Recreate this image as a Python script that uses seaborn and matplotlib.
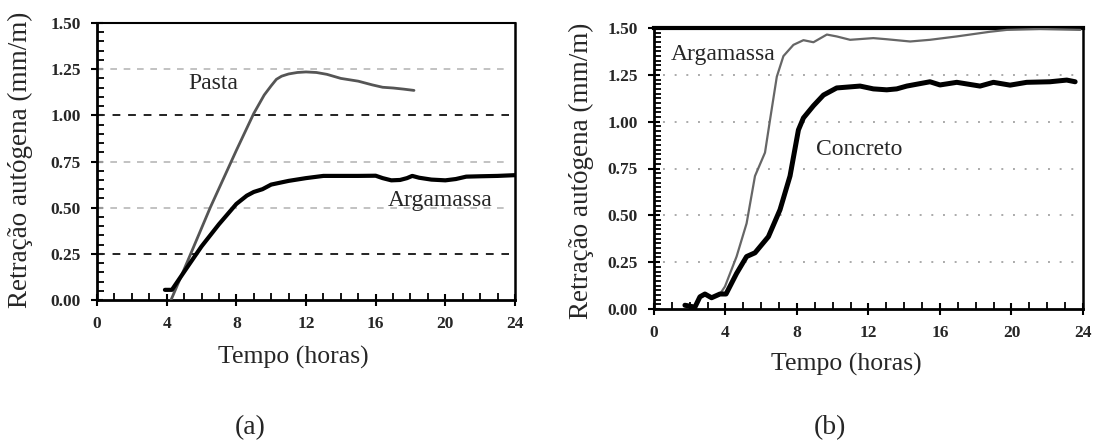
import matplotlib
matplotlib.use("Agg")
import matplotlib.pyplot as plt
from matplotlib.ticker import MultipleLocator, FixedLocator
import seaborn as sns
import pandas as pd

# ---------------- data ----------------
# Panel (a)
pasta_t = [4.25, 5.2, 6.5, 8.0, 9.0, 9.6, 10.0, 10.3, 10.6, 11.0, 11.5, 12.0, 12.6, 13.2,
           14.0, 15.0, 15.8, 16.4, 17.0, 17.6, 18.2]
pasta_v = [0.0, 0.21, 0.50, 0.81, 1.01, 1.11, 1.16, 1.195, 1.212, 1.224, 1.232, 1.235,
           1.232, 1.222, 1.20, 1.185, 1.165, 1.152, 1.148, 1.142, 1.135]

arg_a_t = [3.9, 4.3, 5.2, 6.0, 7.0, 8.0, 8.6, 9.0, 9.5, 10.0, 11.0, 12.0, 13.0, 14.0,
           15.0, 16.0, 16.4, 16.9, 17.4, 17.8, 18.1, 18.5, 19.2, 20.0, 20.6, 21.2,
           22.0, 23.0, 24.0]
arg_a_v = [0.055, 0.055, 0.18, 0.29, 0.41, 0.52, 0.565, 0.585, 0.60, 0.625, 0.645,
           0.66, 0.672, 0.672, 0.672, 0.673, 0.66, 0.648, 0.65, 0.66, 0.672, 0.662,
           0.652, 0.648, 0.655, 0.668, 0.67, 0.672, 0.676]

# Panel (b)
conc_t = [1.73, 2.29, 2.57, 2.85, 3.22, 3.69, 4.03, 4.62, 5.18, 5.65, 6.4, 7.05, 7.61,
          8.08, 8.36, 8.92, 9.48, 10.22, 11.53, 12.27, 13.02, 13.58, 14.14, 15.44,
          16.0, 16.94, 18.24, 18.99, 19.92, 20.85, 22.15, 23.09, 23.56]
conc_v = [0.02, 0.01, 0.065, 0.08, 0.06, 0.08, 0.08, 0.19, 0.28, 0.30, 0.386, 0.53,
          0.71, 0.956, 1.02, 1.085, 1.142, 1.18, 1.19, 1.175, 1.17, 1.175, 1.19,
          1.213, 1.196, 1.21, 1.19, 1.21, 1.195, 1.21, 1.213, 1.222, 1.213]

arg_b_t = [3.69, 3.97, 4.62, 5.18, 5.65, 6.21, 6.49, 6.87, 7.24, 7.8, 8.36, 8.92, 9.67,
           10.22, 10.97, 12.27, 13.02, 14.33, 15.44, 16.94, 18.8, 19.74, 21.6, 23.85]
arg_b_v = [0.08, 0.12, 0.28, 0.457, 0.71, 0.835, 1.009, 1.24, 1.35, 1.41, 1.435, 1.424,
           1.465, 1.455, 1.437, 1.446, 1.44, 1.428, 1.437, 1.455, 1.48, 1.49, 1.495,
           1.49]

x_ticks = [0, 4, 8, 12, 16, 20, 24]
y_ticks = [0.0, 0.25, 0.5, 0.75, 1.0, 1.25, 1.5]
y_tick_labels = ["0.00", "0.25", "0.50", "0.75", "1.00", "1.25", "1.50"]
ylabel = "Retração autógena (mm/m)"
xlabel = "Tempo (horas)"

# ---------------- style ----------------
sns.set_style("ticks")
plt.rcParams["font.family"] = ["Liberation Serif", "DejaVu Serif"]

W, H = 1099, 446
fig = plt.figure(figsize=(W / 100, H / 100), dpi=100)


def px_axes(l, t, r, b):
    return fig.add_axes([l / W, 1 - b / H, (r - l) / W, (b - t) / H])


ax_a = px_axes(97, 23, 515, 300)
ax_b = px_axes(654, 28, 1083, 309)

df_pasta = pd.DataFrame({"t": pasta_t, "v": pasta_v})
df_arg_a = pd.DataFrame({"t": arg_a_t, "v": arg_a_v})
df_conc = pd.DataFrame({"t": conc_t, "v": conc_v})
df_arg_b = pd.DataFrame({"t": arg_b_t, "v": arg_b_v})

# ---- panel (a) ----
for yv in [0.5, 0.75, 1.25]:
    ax_a.axhline(yv, xmax=0.985, color="#b8b8b8", lw=1.2, ls=(0, (4, 4)), zorder=1)
for yv in [0.25, 1.0]:
    ax_a.axhline(yv, xmax=0.985, color="#222222", lw=1.4, ls=(0, (4, 4)), zorder=1)

sns.lineplot(data=df_pasta, x="t", y="v", ax=ax_a, color="#555555", lw=2.0,
             estimator=None, sort=False, zorder=3)
sns.lineplot(data=df_arg_a, x="t", y="v", ax=ax_a, color="#000000", lw=3.0,
             estimator=None, sort=False, zorder=4)

ax_a.text(6.7, 1.17, "Pasta", fontsize=17, ha="center", va="center")
ax_a.text(19.7, 0.537, "Argamassa", fontsize=17, ha="center", va="center")

# ---- panel (b) ----
for yv in [0.25, 0.5, 0.75, 1.0, 1.25]:
    ax_b.axhline(yv, xmin=0.02, xmax=0.985, color="#aaaaaa", lw=1.4,
                 ls=(0, (1, 5)), zorder=1)

sns.lineplot(data=df_arg_b, x="t", y="v", ax=ax_b, color="#666666", lw=1.6,
             estimator=None, sort=False, zorder=3)
sns.lineplot(data=df_conc, x="t", y="v", ax=ax_b, color="#000000", lw=3.6,
             estimator=None, sort=False, zorder=4)

ax_b.text(3.89, 1.36, "Argamassa", fontsize=17, ha="center", va="center")
ax_b.text(11.5, 0.854, "Concreto", fontsize=17, ha="center", va="center")

# ---- common axis styling ----
for ax, minor_y, xlab_pos, ylab_pos, top_lw in [
    (ax_a, 0.05, (0.469, -0.209), (-0.182, 0.505), 1.5),
    (ax_b, 0.025, (0.448, -0.199), (-0.17, 0.49), 3.0),
]:
    ax.set_xlim(0, 24)
    ax.set_ylim(0, 1.5)
    ax.xaxis.set_major_locator(FixedLocator(x_ticks))
    ax.yaxis.set_major_locator(FixedLocator(y_ticks))
    ax.set_yticklabels(y_tick_labels)
    ax.xaxis.set_minor_locator(MultipleLocator(1))
    ax.yaxis.set_minor_locator(MultipleLocator(minor_y))
    ax.tick_params(axis="both", which="major", direction="inout", length=9,
                   width=1.5, color="black", labelsize=12.5, pad=7)
    ax.tick_params(axis="both", which="minor", direction="in", length=5,
                   width=1.3, color="black")
    for lab in ax.get_xticklabels() + ax.get_yticklabels():
        lab.set_fontweight("bold")
    ax.set_xlabel(xlabel, fontsize=18.5)
    ax.set_ylabel(ylabel, fontsize=19.5)
    ax.xaxis.label.set_va("center")
    ax.yaxis.label.set_va("center")
    ax.xaxis.set_label_coords(*xlab_pos)
    ax.yaxis.set_label_coords(*ylab_pos)
    for s in ["left", "bottom"]:
        ax.spines[s].set_linewidth(2.0)
    ax.spines["right"].set_linewidth(1.8)
    ax.spines["top"].set_linewidth(top_lw)
    for s in ax.spines.values():
        s.set_color("black")
        s.set_visible(True)
    ax.set_facecolor("white")

fig.text(250 / W, 1 - 428 / H, "(a)", fontsize=20, ha="center", va="center")
fig.text(830 / W, 1 - 428 / H, "(b)", fontsize=20, ha="center", va="center")

fig.savefig("out.png", dpi=100, facecolor="white")
